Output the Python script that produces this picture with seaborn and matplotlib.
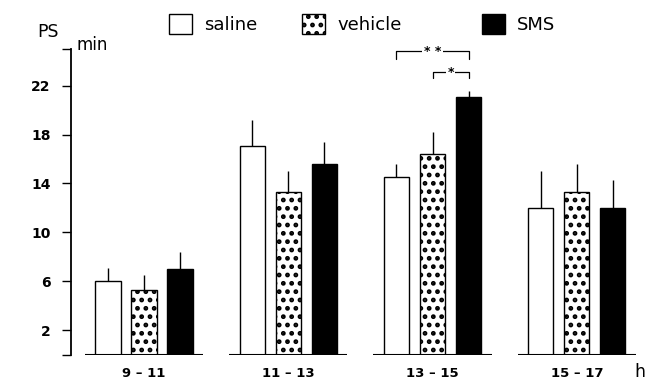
import matplotlib
matplotlib.use("Agg")
import matplotlib.pyplot as plt
import seaborn as sns
import pandas as pd

# time windows (h) and PS duration (min), mean + SEM
groups = ["9 – 11", "11 – 13", "13 – 15", "15 – 17"]
treatments = ["saline", "vehicle", "SMS"]
saline = [6.0, 17.1, 14.5, 12.0]
saline_err = [1.1, 2.1, 1.1, 3.0]
vehicle = [5.3, 13.3, 16.4, 13.3]
vehicle_err = [1.2, 1.7, 1.8, 2.3]
sms = [7.0, 15.6, 21.1, 12.0]
sms_err = [1.4, 1.8, 0.5, 2.3]

yticks = [0, 2, 6, 10, 14, 18, 22, 25]
ytick_labels = ["", "2", "6", "10", "14", "18", "22", ""]

values = [saline, vehicle, sms]
errors = [saline_err, vehicle_err, sms_err]

df = pd.DataFrame({
    "window": groups * 3,
    "treatment": [t for t in treatments for _ in groups],
    "PS": saline + vehicle + sms,
})

sns.set_style("white")
plt.rcParams["font.family"] = ["DejaVu Sans"]
plt.rcParams["hatch.linewidth"] = 2.2
for key in ["text.color", "xtick.color", "ytick.color", "axes.labelcolor"]:
    plt.rcParams[key] = "black"

fig = plt.figure(figsize=(6.56, 3.84), dpi=100)
ax = fig.add_axes([0.1082, 0.0768, 0.881, 0.7956])

sns.barplot(
    data=df, x="window", y="PS", hue="treatment", hue_order=treatments,
    palette=["white", "white", "black"], edgecolor="black", linewidth=1.0,
    width=0.75, gap=0.3, errorbar=None, legend=False, ax=ax,
)

for bar in ax.containers[1]:
    bar.set_hatch("..")

# one-sided error bars
for cont, vals, errs in zip(ax.containers, values, errors):
    for bar, v, e in zip(cont, vals, errs):
        x = bar.get_x() + bar.get_width() / 2
        ax.vlines(x, v, v + e, color="black", linewidth=1.0, zorder=1)

# short baseline under each group
for i in range(len(groups)):
    ax.hlines(0, i - 0.41, i + 0.41, color="black", linewidth=1.5, zorder=3)

# significance brackets in 13-15
def bracket(x0, x1, y, drop, label):
    ax.plot([x0, x0, x1, x1], [y - drop, y, y, y - drop], color="black", linewidth=0.9)
    ax.text((x0 + x1) / 2, y, label, ha="center", va="center", fontsize=9,
            fontweight="bold", bbox=dict(facecolor="white", edgecolor="none", pad=1))

bracket(2 - 0.25, 2 + 0.25, 24.8, 0.6, "* *")
bracket(2.0, 2 + 0.25, 23.1, 0.5, "*")

ax.set_xlim(-0.506, 3.5)
ax.set_ylim(0, 25)
ax.set_yticks(yticks)
ax.set_yticklabels(ytick_labels, fontsize=10, fontweight="bold")
ax.set_xticks(range(len(groups)))
ax.set_xticklabels(groups, fontsize=9.5, fontweight="bold")
ax.tick_params(axis="y", direction="out", length=6.5, width=1.0, pad=8, left=True)
ax.tick_params(axis="x", length=0, pad=9)
ax.set_xlabel("")
ax.set_ylabel("")

for side in ["top", "right", "bottom"]:
    ax.spines[side].set_visible(False)
ax.spines["left"].set_linewidth(1.3)
ax.spines["left"].set_color("black")

fig.text(37 / 656, 1 - 32 / 384, "PS", fontsize=12.5, va="center")
fig.text(77 / 656, 1 - 45 / 384, "min", fontsize=12, va="center")
fig.text(634 / 656, 1 - 372 / 384, "h", fontsize=12.5, va="center")

# legend entries placed one by one, as in the original
legend_x = [169, 302, 482]
for cont, name, lx in zip(ax.containers, treatments, legend_x):
    fig.legend([cont.patches[0]], [name], loc="center left",
               bbox_to_anchor=(lx / 656, 1 - 24 / 384), frameon=False, fontsize=13,
               handlelength=1.3, handleheight=1.3, handletextpad=0.65,
               borderpad=0, borderaxespad=0)

fig.savefig("out.png", dpi=100)
